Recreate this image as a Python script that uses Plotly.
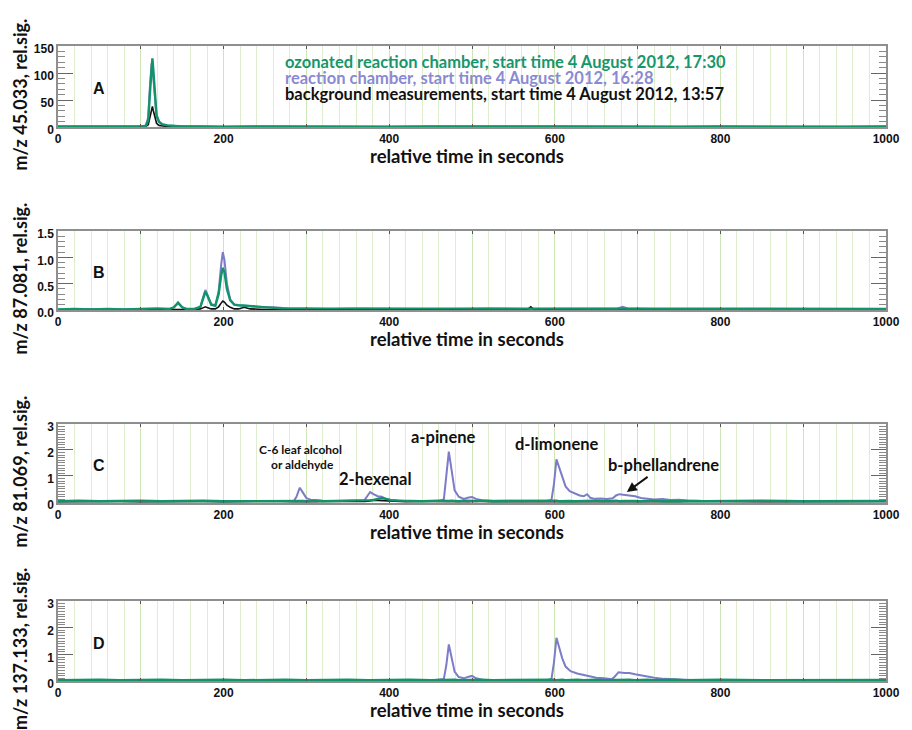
import plotly.graph_objects as go

# ---------------- data ----------------
# Panel A: m/z 45.033
t_A = [0, 25, 50, 75, 100, 106, 109, 111, 113, 114, 115, 117, 119, 122, 126, 132, 140, 150,
       175, 200, 250, 300, 350, 400, 450, 500, 550, 600, 650, 700, 750, 800, 850, 900, 950, 1000]
green_A = [1, 1, 0.5, 1, 1, 2, 12, 62, 115, 127, 108, 55, 22, 10, 5, 3, 2, 1,
           1, 0.5, 1, 0.5, 1, 0.5, 1, 0.5, 1, 1, 0.5, 1, 0.5, 1, 0.5, 1, 0.5, 1]
purple_A = [1, 1, 0.5, 1, 1, 3, 18, 75, 118, 112, 92, 48, 20, 9, 5, 3, 2, 1,
            1, 0.5, 1, 0.5, 1, 0.5, 1, 0.5, 1, 1, 0.5, 1, 0.5, 1, 0.5, 1, 0.5, 1]
black_A = [0.5, 0.5, 0.3, 0.5, 0.5, 1, 4, 18, 34, 38, 31, 16, 7, 3, 2, 1, 1, 0.5,
           0.5, 0.3, 0.5, 0.3, 0.5, 0.3, 0.5, 0.3, 0.5, 0.5, 0.3, 0.5, 0.3, 0.5, 0.3, 0.5, 0.3, 0.5]

# Panel B: m/z 87.081
t_B = [0, 20, 40, 60, 80, 100, 120, 135, 140, 145, 150, 155, 165, 172, 175, 178, 181, 185, 190,
       194, 197, 199, 201, 204, 208, 213, 218, 225, 232, 240, 250, 260, 270, 280, 300, 330, 360,
       400, 440, 480, 520, 560, 568, 571, 574, 600, 640, 676, 682, 688, 720, 760, 800, 840, 880,
       920, 960, 1000]
green_B = [0.01, 0.02, 0.01, 0.02, 0.01, 0.02, 0.03, 0.02, 0.05, 0.14, 0.05, 0.02, 0.02, 0.06,
           0.2, 0.35, 0.25, 0.1, 0.08, 0.3, 0.65, 0.8, 0.72, 0.4, 0.18, 0.1, 0.09, 0.08, 0.07,
           0.06, 0.05, 0.04, 0.03, 0.03, 0.02, 0.02, 0.02, 0.02, 0.03, 0.02, 0.02, 0.02, 0.02,
           0.03, 0.02, 0.03, 0.02, 0.02, 0.02, 0.02, 0.03, 0.02, 0.02, 0.03, 0.02, 0.02, 0.03, 0.02]
purple_B = [0.01, 0.02, 0.02, 0.01, 0.02, 0.02, 0.02, 0.02, 0.05, 0.13, 0.05, 0.02, 0.02, 0.06,
            0.22, 0.38, 0.27, 0.11, 0.09, 0.35, 0.85, 1.1, 0.95, 0.5, 0.2, 0.1, 0.09, 0.08, 0.07,
            0.07, 0.05, 0.05, 0.04, 0.03, 0.03, 0.02, 0.03, 0.02, 0.02, 0.02, 0.03, 0.02, 0.02,
            0.02, 0.02, 0.02, 0.03, 0.03, 0.06, 0.03, 0.02, 0.02, 0.03, 0.02, 0.02, 0.03, 0.02, 0.02]
black_B = [0.0, 0.01, 0.0, 0.01, 0.0, 0.01, 0.01, 0.01, 0.01, 0.02, 0.01, 0.0, 0.01, 0.02,
           0.04, 0.06, 0.04, 0.02, 0.02, 0.06, 0.13, 0.17, 0.15, 0.09, 0.05, 0.02, 0.02, 0.05,
           0.02, 0.01, 0.01, 0.01, 0.01, 0.0, 0.01, 0.0, 0.01, 0.0, 0.01, 0.0, 0.01, 0.0, 0.02,
           0.06, 0.02, 0.01, 0.0, 0.0, 0.01, 0.0, 0.01, 0.0, 0.01, 0.0, 0.01, 0.0, 0.01, 0.0]

# Panel C: m/z 81.069
t_C = [0, 25, 50, 75, 100, 125, 150, 175, 200, 225, 250, 270, 285, 288, 292, 296, 300, 305, 312,
       320, 340, 360, 370, 374, 377, 381, 386, 391, 396, 402, 410, 420, 440, 460, 466, 469, 472,
       475, 479, 484, 490, 496, 500, 505, 512, 525, 550, 575, 590, 596, 599, 602, 605, 609, 613,
       618, 624, 630, 635, 639, 643, 648, 655, 663, 670, 674, 678, 684, 690, 697, 704, 712, 720,
       730, 740, 750, 760, 780, 800, 850, 900, 950, 1000]
purple_C = [0.03, 0.04, 0.03, 0.04, 0.03, 0.04, 0.03, 0.04, 0.03, 0.04, 0.03, 0.04, 0.05, 0.2,
            0.55, 0.35, 0.15, 0.09, 0.07, 0.05, 0.04, 0.04, 0.06, 0.25, 0.38, 0.3, 0.22, 0.2,
            0.12, 0.08, 0.05, 0.04, 0.04, 0.04, 0.1, 0.9, 1.94, 1.3, 0.45, 0.2, 0.12, 0.17, 0.19,
            0.12, 0.07, 0.05, 0.04, 0.04, 0.04, 0.08, 0.7, 1.64, 1.35, 0.95, 0.6, 0.42, 0.33,
            0.25, 0.22, 0.3, 0.16, 0.12, 0.13, 0.11, 0.14, 0.25, 0.3, 0.27, 0.25, 0.22, 0.15,
            0.13, 0.1, 0.11, 0.08, 0.09, 0.06, 0.04, 0.03, 0.03, 0.03, 0.03, 0.03]
green_C = [0.03, 0.05, 0.03, 0.04, 0.05, 0.03, 0.04, 0.05, 0.03, 0.04, 0.05, 0.03, 0.04, 0.04,
           0.05, 0.04, 0.03, 0.04, 0.05, 0.03, 0.04, 0.04, 0.05, 0.06, 0.07, 0.08, 0.12, 0.15,
           0.12, 0.07, 0.05, 0.04, 0.03, 0.05, 0.04, 0.03, 0.04, 0.05, 0.04, 0.03, 0.05, 0.04,
           0.03, 0.04, 0.05, 0.03, 0.04, 0.05, 0.03, 0.04, 0.04, 0.05, 0.03, 0.04, 0.05, 0.04,
           0.03, 0.04, 0.05, 0.03, 0.04, 0.05, 0.04, 0.03, 0.04, 0.05, 0.03, 0.04, 0.05, 0.04,
           0.03, 0.04, 0.05, 0.03, 0.04, 0.05, 0.04, 0.03, 0.04, 0.05, 0.03, 0.04, 0.04]
black_C = [0.01, 0.02, 0.01, 0.02, 0.01, 0.02, 0.01, 0.02, 0.01, 0.02, 0.01, 0.02, 0.01, 0.02,
           0.01, 0.02, 0.01, 0.02, 0.01, 0.02, 0.01, 0.02, 0.02, 0.03, 0.05, 0.06, 0.06, 0.05,
           0.05, 0.04, 0.02, 0.01, 0.02, 0.01, 0.02, 0.01, 0.02, 0.01, 0.02, 0.01, 0.02, 0.01,
           0.02, 0.01, 0.02, 0.01, 0.02, 0.01, 0.02, 0.01, 0.02, 0.01, 0.02, 0.01, 0.02, 0.01,
           0.02, 0.01, 0.02, 0.01, 0.02, 0.01, 0.02, 0.01, 0.02, 0.01, 0.02, 0.01, 0.02, 0.01,
           0.02, 0.01, 0.02, 0.01, 0.02, 0.01, 0.02, 0.01, 0.02, 0.01, 0.02, 0.01, 0.02]

# Panel D: m/z 137.133
t_D = [0, 25, 50, 75, 100, 125, 150, 175, 200, 225, 250, 275, 300, 325, 350, 375, 400, 425, 450,
       466, 469, 472, 475, 479, 484, 490, 496, 500, 505, 512, 525, 550, 575, 590, 596, 599, 602,
       605, 609, 613, 619, 627, 635, 641, 650, 660, 669, 672, 677, 684, 690, 697, 705, 712, 720,
       732, 745, 756, 770, 800, 850, 900, 950, 1000]
purple_D = [0.02, 0.03, 0.02, 0.03, 0.02, 0.03, 0.02, 0.03, 0.02, 0.03, 0.02, 0.03, 0.02, 0.03,
            0.02, 0.03, 0.02, 0.03, 0.02, 0.08, 0.6, 1.37, 0.9, 0.35, 0.15, 0.1, 0.16, 0.19, 0.1,
            0.05, 0.04, 0.03, 0.03, 0.03, 0.08, 0.7, 1.62, 1.3, 0.85, 0.54, 0.37, 0.28, 0.22,
            0.16, 0.12, 0.1, 0.07, 0.15, 0.33, 0.3, 0.3, 0.25, 0.2, 0.15, 0.12, 0.08, 0.06, 0.05,
            0.03, 0.02, 0.02, 0.02, 0.02, 0.02]
green_D = [0.03, 0.04, 0.05, 0.03, 0.04, 0.05, 0.03, 0.04, 0.05, 0.03, 0.04, 0.05, 0.03, 0.04,
           0.05, 0.03, 0.04, 0.05, 0.03, 0.04, 0.05, 0.03, 0.04, 0.05, 0.03, 0.04, 0.05, 0.03,
           0.04, 0.05, 0.03, 0.04, 0.05, 0.03, 0.04, 0.05, 0.03, 0.04, 0.05, 0.03, 0.04, 0.05,
           0.03, 0.04, 0.05, 0.03, 0.04, 0.05, 0.03, 0.04, 0.05, 0.03, 0.04, 0.05, 0.03, 0.04,
           0.05, 0.03, 0.04, 0.05, 0.03, 0.04, 0.05, 0.04]
black_D = [0.01, 0.02, 0.01, 0.02, 0.01, 0.02, 0.01, 0.02, 0.01, 0.02, 0.01, 0.02, 0.01, 0.02,
           0.01, 0.02, 0.01, 0.02, 0.01, 0.02, 0.01, 0.02, 0.01, 0.02, 0.01, 0.02, 0.01, 0.02,
           0.01, 0.02, 0.01, 0.02, 0.01, 0.02, 0.01, 0.02, 0.01, 0.02, 0.01, 0.02, 0.01, 0.02,
           0.01, 0.02, 0.01, 0.02, 0.01, 0.02, 0.01, 0.02, 0.01, 0.02, 0.01, 0.02, 0.01, 0.02,
           0.01, 0.02, 0.01, 0.02, 0.01, 0.02, 0.01, 0.02]

panel_letters = ["A", "B", "C", "D"]
y_titles = ["m/z 45.033, rel.sig.", "m/z 87.081, rel.sig.", "m/z 81.069, rel.sig.", "m/z 137.133, rel.sig."]
x_title = "relative time in seconds"
x_tick_vals = [0, 100, 200, 300, 400, 500, 600, 700, 800, 900, 1000]
x_tick_text = ["0", "", "200", "", "400", "", "600", "", "800", "", "1000"]
y_tick_vals = [[0, 50, 100, 150], [0, 0.5, 1.0, 1.5], [0, 1, 2, 3], [0, 1, 2, 3]]
y_tick_text = [["0", "50", "100", "150"], ["0.0", "0.5", "1.0", "1.5"], ["0", "1", "2", "3"], ["0", "1", "2", "3"]]
legend_lines = ["ozonated reaction chamber, start time 4 August 2012, 17:30",
                "reaction chamber, start time 4 August 2012, 16:28",
                "background measurements, start time 4 August 2012, 13:57"]

# ---------------- style ----------------
GREEN = "#12946a"
PURPLE = "#7c7cc8"
BLACK = "#111111"
GREEN_TXT = "#17966c"
PURPLE_TXT = "#8a8ad2"
GRID = "rgba(190,222,160,0.5)"
FRAME = "#8f8f8f"
HUM = "Lato, Open Sans, sans-serif"
ARIAL = "Liberation Sans, Arial, sans-serif"

domains = [[0.8724, 1.0], [0.5843, 0.7087], [0.2803, 0.4047], [0.0, 0.126]]
y_ranges = [[0, 150], [0, 1.5], [-0.04, 3.0], [0, 3.0]]
minor_dt = [10, 0.1, 0.1, 0.1]

panels = [(t_A, purple_A, black_A, green_A), (t_B, purple_B, black_B, green_B),
          (t_C, purple_C, black_C, green_C), (t_D, purple_D, black_D, green_D)]

fig = go.Figure()
layout = dict(
    width=912, height=730,
    margin=dict(l=58, r=14, t=46, b=49),
    paper_bgcolor="white", plot_bgcolor="white",
    showlegend=False,
)
annotations = []
for i, (t, p, k, g) in enumerate(panels):
    sx = "" if i == 0 else str(i + 1)
    xa, ya = "x" + sx, "y" + sx
    fig.add_trace(go.Scatter(x=t, y=p, mode="lines", line=dict(color=PURPLE, width=2), xaxis=xa, yaxis=ya))
    fig.add_trace(go.Scatter(x=t, y=k, mode="lines", line=dict(color=BLACK, width=1.6), xaxis=xa, yaxis=ya))
    fig.add_trace(go.Scatter(x=t, y=g, mode="lines", line=dict(color=GREEN, width=2.4), xaxis=xa, yaxis=ya))
    layout["xaxis" + sx] = dict(
        domain=[0, 1], anchor=ya, range=[0, 1000],
        tickmode="array", tickvals=x_tick_vals, ticktext=x_tick_text,
        ticks="inside", ticklen=3, tickcolor="#555", tickwidth=1,
        showline=True, linecolor=FRAME, linewidth=1.5, mirror="ticks",
        showgrid=True, gridcolor=GRID, gridwidth=1,
        minor=dict(dtick=20, tick0=0, showgrid=True, gridcolor=GRID, gridwidth=1, ticks=""),
        zeroline=False, fixedrange=True,
        tickfont=dict(family=ARIAL, size=12, color="#111", weight="bold"),
    )
    layout["yaxis" + sx] = dict(
        domain=domains[i], anchor=xa, range=y_ranges[i],
        tickmode="array", tickvals=y_tick_vals[i], ticktext=y_tick_text[i],
        ticks="inside", ticklen=15, tickcolor="#666", tickwidth=1,
        minor=dict(dtick=minor_dt[i], tick0=0, ticks="inside", ticklen=7, tickcolor="#888", tickwidth=1, showgrid=False),
        showline=True, linecolor=FRAME, linewidth=1.5, mirror="ticks",
        showgrid=False, zeroline=False, fixedrange=True, ticklabelshift=3,
        tickfont=dict(family=ARIAL, size=12, color="#111", weight="bold"),
    )
    # panel letter
    annotations.append(dict(text=panel_letters[i], xref=xa + " domain", yref=ya + " domain",
                            x=0.05, y=0.47, xanchor="center", yanchor="middle", showarrow=False,
                            font=dict(family=ARIAL, size=16, color="#111", weight="bold")))
    # y title
    annotations.append(dict(text=y_titles[i], xref="paper", yref=ya + " domain", x=0, y=0.5,
                            xshift=-38, yshift=-8, textangle=-90, xanchor="center", yanchor="middle",
                            showarrow=False, font=dict(family=HUM, size=18, color="#111", weight="bold")))
    # x title
    annotations.append(dict(text=x_title, xref="paper", yref=ya + " domain", x=0.4935, y=0,
                            yshift=-29, xanchor="center", yanchor="middle", showarrow=False,
                            font=dict(family=HUM, size=18.5, color="#111", weight="bold")))

# legend text in panel A
for txt, col, yv in zip(legend_lines, [GREEN_TXT, PURPLE_TXT, BLACK], [120, 90.5, 61]):
    annotations.append(dict(text=txt, xref="x", yref="y", x=271.5, y=yv, xanchor="left", yanchor="middle",
                            showarrow=False, font=dict(family=HUM, size=16.5, color=col, weight="bold")))

# compound labels in panel C
c_font_big = dict(family=HUM, size=16.5, color="#111", weight="bold")
annotations += [
    dict(text="C-6 leaf alcohol", xref="x3", yref="y3", x=293, y=2.03, showarrow=False,
         font=dict(family=HUM, size=12, color="#111", weight="bold")),
    dict(text="or aldehyde", xref="x3", yref="y3", x=295, y=1.45, showarrow=False,
         font=dict(family=HUM, size=12, color="#111", weight="bold")),
    dict(text="2-hexenal", xref="x3", yref="y3", x=383, y=0.87, showarrow=False, font=c_font_big),
    dict(text="a-pinene", xref="x3", yref="y3", x=465, y=2.49, showarrow=False, font=c_font_big),
    dict(text="d-limonene", xref="x3", yref="y3", x=603, y=2.22, showarrow=False, font=c_font_big),
    dict(text="b-phellandrene", xref="x3", yref="y3", x=687, y=0.38, ax=731, ay=1.41,
         axref="x3", ayref="y3", showarrow=True, arrowhead=2, arrowsize=1, arrowwidth=2,
         arrowcolor="#111", font=c_font_big),
]
layout["annotations"] = annotations
fig.update_layout(**layout)
fig.write_html("out.html", config={"displayModeBar": False},
               post_script="document.body.style.margin='0';document.body.style.overflow='hidden';")
